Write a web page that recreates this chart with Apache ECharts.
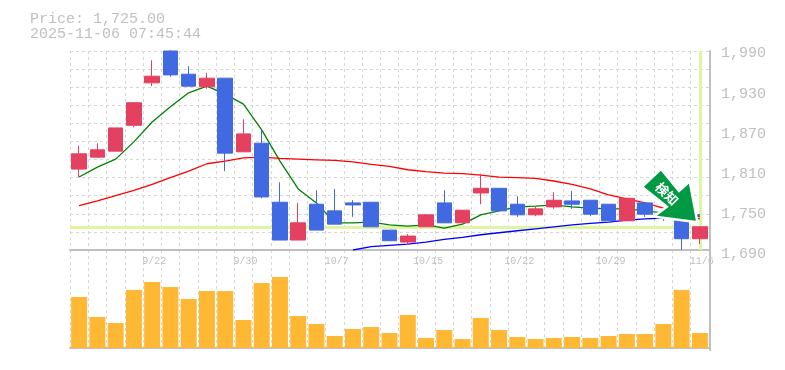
<!DOCTYPE html>
<html><head><meta charset="utf-8">
<style>html,body{margin:0;padding:0;background:#fff}#c{width:785px;height:370px}</style>
<script src="https://cdn.jsdelivr.net/npm/echarts@6/dist/echarts.min.js"></script>
</head><body><div id="c"></div>
<script>
const categories = ['9/16','9/17','9/18','9/19','9/22','9/24','9/25','9/26','9/29','9/30','10/1','10/2','10/3','10/6','10/7','10/8','10/9','10/10','10/14','10/15','10/16','10/17','10/20','10/21','10/22','10/23','10/24','10/27','10/28','10/29','10/30','10/31','11/4','11/5','11/6'];
// open, close, low, high
const candles = [[1812,1835,1800,1847],[1830,1841,1829,1851],[1839,1874,1839,1874],[1878,1912,1875,1913],[1942,1952,1937,1976],[1990,1954,1951,1991],[1955,1937,1937,1967],[1936,1949,1933,1957],[1949,1836,1809,1949],[1838,1865,1838,1887],[1851,1770,1768,1871],[1762,1705,1705,1792],[1705,1731,1705,1761],[1759,1720,1720,1780],[1749,1729,1729,1782],[1761,1758,1740,1765],[1762,1725,1725,1762],[1720,1704,1704,1720],[1702,1711,1698,1714],[1725,1743,1725,1744],[1761,1731,1731,1780],[1731,1750,1731,1750],[1776,1783,1759,1805],[1783,1749,1749,1783],[1759,1743,1740,1771],[1743,1752,1741,1756],[1755,1765,1752,1777],[1764,1759,1752,1779],[1765,1744,1741,1765],[1759,1734,1734,1759],[1734,1768,1734,1768],[1761,1744,1740,1761],[1744,1740,1734,1748],[1741,1707,1690,1741],[1707,1725,1699,1726]];
const maShort = [1800,1815,1827,1853,1883,1906,1927,1937,1925,1910,1871,1824,1782,1761,1731,1731,1732,1728,1726,1728,1723,1729,1743,1749,1755,1756,1758,1755,1753,1752,1752,1749,1746,1741,1737];
const maMid = [1757,1764,1772,1780,1789,1799,1809,1820,1824,1829,1830,1828,1827,1826,1825,1823,1819,1816,1811,1808,1806,1805,1803,1800,1799,1798,1794,1789,1782,1773,1767,1761,1753,1747,1740];
const maLong = [null,null,null,null,null,null,null,null,null,null,null,null,null,null,null,1690,1695,1697,1699,1702,1706,1709,1713,1716,1719,1722,1725,1728,1730,1732,1735,1737,1738,1740,1743];
const volumes = [51,31,25,58,66,61,49,57,57,28,65,71,32,24,12,19,21,15,33,10,18,9,30,18,11,9,10,11,10,12,14,14,24,58,15];
const lastPrice = 1725, lastDate = '11/6', arrowTipPrice = 1734;
const titleLines = ['Price: 1,725.00','2025-11-06 07:45:44'];
const arrowText = '検知';

const GREY='#c0c0c0', GRID='#d6d6d6', MONO='"Liberation Mono", monospace';
const chart = echarts.init(document.getElementById('c'),null,{renderer:'canvas'});
const xBase = {type:'category',data:categories,boundaryGap:true,
  axisTick:{show:false},axisLine:{lineStyle:{color:GREY,width:2}},
  splitLine:{show:true,interval:0,lineStyle:{color:GRID,type:[3,3],width:1}}};
chart.setOption({
  animation:false,backgroundColor:'#fff',
  title:{text:titleLines.join('\n'),left:30,top:12,padding:0,
    textStyle:{fontFamily:MONO,fontSize:15,fontWeight:'normal',color:GREY,lineHeight:15}},
  grid:[{left:70,top:51,width:639,height:199},{left:70,top:250,width:639,height:100},{left:70,top:53.5,width:639,height:201}],
  xAxis:[
    Object.assign({},xBase,{gridIndex:0,axisLabel:{show:true,interval:i=>i%5===4,color:GREY,fontFamily:MONO,fontSize:10,margin:6,padding:[0,0,0,4]}}),
    Object.assign({},xBase,{gridIndex:1,axisLabel:{show:false}}),
    {gridIndex:2,type:'category',data:categories,show:false}
  ],
  yAxis:[
    {gridIndex:0,type:'value',position:'right',offset:1,min:1690,max:1990,interval:60,splitLine:{show:false},axisTick:{show:false},
     axisLine:{show:true,lineStyle:{color:GREY,width:2}},axisLabel:{show:false}},
    {gridIndex:0,type:'value',position:'left',min:0,max:11,interval:1,axisLine:{show:false},axisTick:{show:false},axisLabel:{show:false},
     splitLine:{show:true,lineStyle:{color:GRID,type:[3,3],width:1}}},
    {gridIndex:1,type:'value',position:'right',offset:1,min:-2,max:98,axisLine:{show:true,lineStyle:{color:GREY,width:2}},axisTick:{show:false},axisLabel:{show:false},splitLine:{show:false}},
    {gridIndex:2,type:'value',position:'right',min:1690,max:1990,interval:60,splitLine:{show:false},axisTick:{show:false},axisLine:{show:false},
     axisLabel:{color:GREY,fontFamily:MONO,fontSize:15,margin:12,formatter:v=>v.toLocaleString('en-US')}}
  ],
  series:[
    {type:'line',xAxisIndex:0,yAxisIndex:0,data:[],z:1,silent:true,
     markLine:{silent:true,z:1,symbol:'none',label:{show:false},animation:false,
       lineStyle:{color:'#e0f5a0',width:3,type:'solid'},
       data:[{yAxis:lastPrice},{xAxis:lastDate}]}},
    {type:'line',name:'short',xAxisIndex:0,yAxisIndex:0,data:maShort,z:2,showSymbol:false,lineStyle:{color:'#008000',width:1.3}},
    {type:'line',name:'mid',xAxisIndex:0,yAxisIndex:0,data:maMid,z:2,showSymbol:false,lineStyle:{color:'#ff0000',width:1.3}},
    {type:'line',name:'long',xAxisIndex:0,yAxisIndex:0,data:maLong,z:2,showSymbol:false,connectNulls:false,lineStyle:{color:'#0000ff',width:1.3}},
    {type:'candlestick',xAxisIndex:0,yAxisIndex:0,data:candles,z:3,barWidth:15,
     itemStyle:{color:'#e4405f',color0:'#4169e1',borderColor:'#e4405f',borderColor0:'#4169e1',borderWidth:1}},
    {type:'bar',xAxisIndex:1,yAxisIndex:2,data:volumes,barWidth:16,itemStyle:{color:'#ffb833'},z:3}
  ]
});
// Arrow annotation anchored at the last candle through the chart's own scales
const tip = chart.convertToPixel({xAxisIndex:0,yAxisIndex:0},[lastDate,arrowTipPrice]);
const arrowPts = [[-35,-50],[-52,-34],[-27,-14],[-39,-5],[0,0],[-7,-37],[-17,-28]];
chart.setOption({graphic:[{type:'group',x:tip[0]-4,y:tip[1],z:50,children:[
  {type:'polygon',shape:{points:arrowPts},style:{fill:'#fff',stroke:'#fff',lineWidth:5,lineJoin:'round'},z:50},
  {type:'polygon',shape:{points:arrowPts},style:{fill:'#009944'},z:51},
  {type:'text',x:-29,y:-27,rotation:-Math.PI/4,z:52,
   style:{text:arrowText,fill:'#fff',font:'bold 13px "Noto Sans CJK JP"',align:'center',verticalAlign:'middle'}}
]}]});
</script></body></html>
